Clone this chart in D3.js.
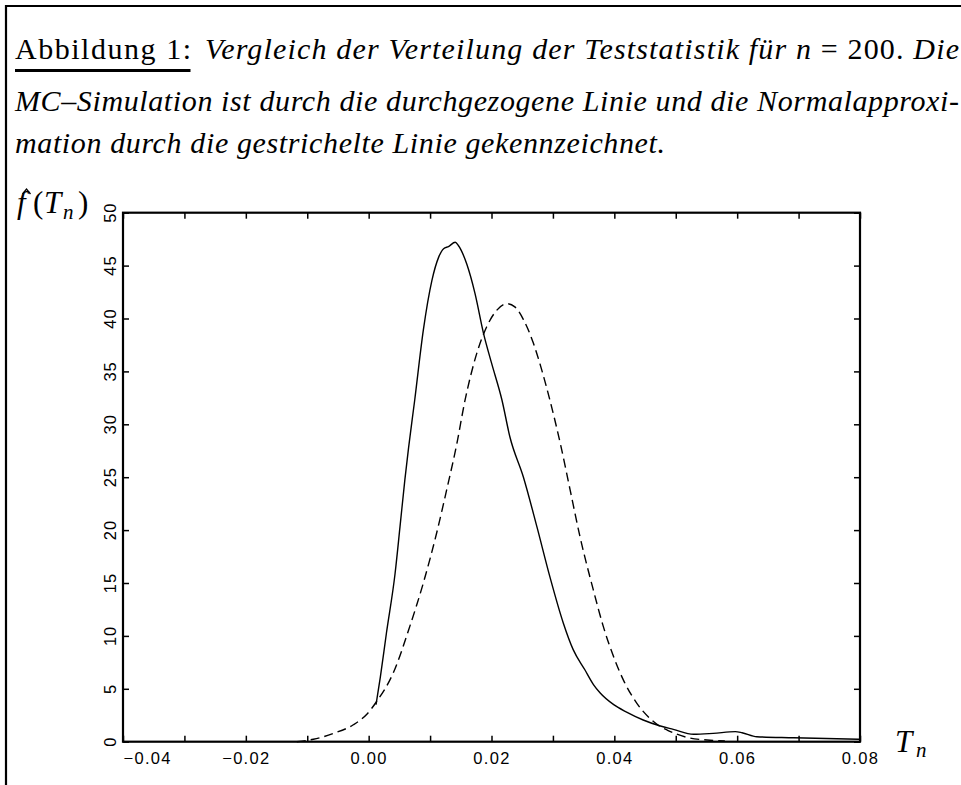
<!DOCTYPE html>
<html>
<head>
<meta charset="utf-8">
<script src="https://cdn.jsdelivr.net/npm/d3@7/dist/d3.min.js"></script>
<style>
  html, body { margin: 0; padding: 0; background: #fff; }
  svg { display: block; }
</style>
</head>
<body>
<script>
// Monte-Carlo density estimate of the test statistic (solid line)
const tnMC = [0.0012, 0.0019, 0.0029, 0.0043, 0.0051, 0.0059, 0.0065, 0.0075, 0.0089, 0.0103,
              0.0114, 0.0122, 0.0130, 0.0141, 0.0146, 0.0160, 0.0173, 0.0187, 0.0200, 0.0217,
              0.0230, 0.0252, 0.0274, 0.0295, 0.0317, 0.0333, 0.0352, 0.0366, 0.0377, 0.0399,
              0.0420, 0.0447, 0.0475, 0.0496, 0.0529, 0.0561, 0.0597, 0.0608, 0.0632, 0.0692, 0.0800];
const densMC = [3.5, 6.1, 10.3, 15.9, 20.3, 24.8, 27.8, 32.3, 38.9, 43.6,
                45.8, 46.6, 46.8, 47.2, 46.9, 45.1, 42.4, 38.6, 35.8, 32.3,
                28.8, 25.0, 20.3, 15.6, 11.2, 8.7, 6.8, 5.4, 4.6, 3.5,
                2.8, 2.05, 1.48, 1.17, 0.70, 0.79, 0.95, 0.85, 0.47, 0.38, 0.23];

// Normal approximation (dashed line)
const tnNorm = [-0.0117, -0.0090, -0.0057, -0.0025, -0.0003, 0.0013, 0.0040, 0.0067, 0.0089, 0.0111,
                0.0127, 0.0143, 0.0157, 0.0176, 0.0192, 0.0206, 0.0225, 0.0238, 0.0252, 0.0268,
                0.0282, 0.0295, 0.0312, 0.0328, 0.0344, 0.0366, 0.0382, 0.0399, 0.0415, 0.0437,
                0.0458, 0.0475, 0.0486, 0.0518, 0.0551, 0.0580];
const densNorm = [0.0, 0.23, 0.79, 1.6, 2.6, 3.8, 6.5, 10.9, 15.0, 19.8,
                  23.8, 28.0, 32.3, 36.7, 39.2, 40.6, 41.4, 41.1, 39.9, 37.7,
                  35.1, 32.3, 28.2, 23.8, 19.4, 14.3, 10.9, 8.0, 5.8, 3.6,
                  2.2, 1.42, 1.1, 0.41, 0.16, 0.08];

// Axis ticks and labels
const xTicks = [-0.04, -0.03, -0.02, -0.01, 0.00, 0.01, 0.02, 0.03, 0.04, 0.05, 0.06, 0.07, 0.08];
const xLabels = ["\u22120.04", "", "\u22120.02", "", "0.00", "", "0.02", "", "0.04", "", "0.06", "", "0.08"];
const yTicks = [0, 5, 10, 15, 20, 25, 30, 35, 40, 45, 50];
const yLabels = ["0", "5", "10", "15", "20", "25", "30", "35", "40", "45", "50"];

const W = 961, H = 785;
const svg = d3.select("body").append("svg").attr("width", W).attr("height", H);
svg.append("rect").attr("width", W).attr("height", H).attr("fill", "#fff");

// page frame (top and left rules)
svg.append("path").attr("d", `M6,${H} V6 H${W}`).attr("fill", "none")
  .attr("stroke", "#000").attr("stroke-width", 2.2);

// caption
const serif = "'Liberation Serif', 'Times New Roman', serif";
const cap = svg.append("g").attr("font-family", serif).attr("font-size", 30).attr("fill", "#000");
cap.append("text").attr("x", 15).attr("y", 59)
  .attr("textLength", 176).attr("lengthAdjust", "spacing")
  .text("Abbildung 1:");
cap.append("line").attr("x1", 15).attr("x2", 190.5).attr("y1", 70.5).attr("y2", 70.5)
  .attr("stroke", "#000").attr("stroke-width", 3);
const l1 = cap.append("text").attr("x", 205).attr("y", 59).attr("font-style", "italic")
  .attr("textLength", 754).attr("lengthAdjust", "spacing");
l1.append("tspan").text("Vergleich der Verteilung der Teststatistik für n ");
l1.append("tspan").attr("font-style", "normal").text("= 200. ");
l1.append("tspan").text("Die");
cap.append("text").attr("x", 15).attr("y", 110.5).attr("font-style", "italic")
  .attr("textLength", 944).attr("lengthAdjust", "spacing")
  .text("MC\u2013Simulation ist durch die durchgezogene Linie und die Normalapproxi-");
cap.append("text").attr("x", 15).attr("y", 153).attr("font-style", "italic")
  .attr("textLength", 650).attr("lengthAdjust", "spacing")
  .text("mation durch die gestrichelte Linie gekennzeichnet.");

// scales
const x = d3.scaleLinear().domain([-0.04, 0.08]).range([123, 860]);
const y = d3.scaleLinear().domain([0, 50]).range([741.7, 212.7]);

const sans = "'Liberation Sans', Arial, sans-serif";
const tickLen = 6;

// bottom axis with labels
const gB = svg.append("g").attr("transform", `translate(0,${y(0)})`)
  .call(d3.axisBottom(x).tickValues(xTicks).tickSizeInner(-tickLen).tickSizeOuter(0)
    .tickPadding(11).tickFormat((d, i) => xLabels[i]));
gB.select(".domain").remove();
gB.selectAll("text").attr("font-family", sans).attr("font-size", 16.5)
  .attr("letter-spacing", "1.3px").attr("fill", "#000");
gB.selectAll(".tick").filter((d, i) => i === 0).select("text")
  .attr("text-anchor", "start").attr("x", 0);

// top axis, ticks only
const gT = svg.append("g").attr("transform", `translate(0,${y(50)})`)
  .call(d3.axisTop(x).tickValues(xTicks).tickSizeInner(-tickLen).tickSizeOuter(0).tickFormat(""));
gT.select(".domain").remove();

// left axis with rotated labels
const gL = svg.append("g").attr("transform", `translate(${x(-0.04)},0)`)
  .call(d3.axisLeft(y).tickValues(yTicks).tickSizeInner(-tickLen).tickSizeOuter(0).tickFormat(""));
gL.select(".domain").remove();
svg.append("g").selectAll("text").data(yTicks).join("text")
  .attr("transform", d => `translate(115.5,${y(d)}) rotate(-90)`)
  .attr("text-anchor", "middle")
  .attr("font-family", sans).attr("font-size", 16.5).attr("letter-spacing", "1px")
  .attr("fill", "#000")
  .text((d, i) => yLabels[i]);

// right axis, ticks only
const gR = svg.append("g").attr("transform", `translate(${x(0.08)},0)`)
  .call(d3.axisRight(y).tickValues(yTicks).tickSizeInner(-tickLen).tickSizeOuter(0).tickFormat(""));
gR.select(".domain").remove();

svg.selectAll(".tick line").attr("stroke", "#000").attr("stroke-width", 1.5);

// plot frame
svg.append("rect").attr("x", x(-0.04)).attr("y", y(50))
  .attr("width", x(0.08) - x(-0.04)).attr("height", y(0) - y(50))
  .attr("fill", "none").attr("stroke", "#000").attr("stroke-width", 2.2);

// curves
const line = d3.line().x(d => x(d[0])).y(d => y(d[1])).curve(d3.curveMonotoneX);
svg.append("path").datum(d3.zip(tnMC, densMC)).attr("d", line)
  .attr("fill", "none").attr("stroke", "#000").attr("stroke-width", 1.4);
svg.append("path").datum(d3.zip(tnNorm, densNorm)).attr("d", line)
  .attr("fill", "none").attr("stroke", "#000").attr("stroke-width", 1.4)
  .attr("stroke-dasharray", "9,5");

// y-axis title: f-hat(T_n)
const yt = svg.append("text").attr("font-family", serif).attr("font-size", 31).attr("fill", "#000")
  .attr("y", 213);
yt.append("tspan").attr("x", 17).attr("font-style", "italic").text("f");
yt.append("tspan").attr("x", 33).text("(");
yt.append("tspan").attr("x", 44).attr("font-style", "italic").text("T");
yt.append("tspan").attr("x", 63).attr("font-style", "italic").attr("font-size", 21).attr("dy", 6).text("n");
yt.append("tspan").attr("x", 78).attr("dy", -6).text(")");
// circumflex over the f
svg.append("path").attr("d", "M22.5,194 L26.5,189 L30.5,194").attr("fill", "none")
  .attr("stroke", "#000").attr("stroke-width", 1.3);

// x-axis title: T_n
const xt = svg.append("text").attr("font-family", serif).attr("font-size", 31).attr("fill", "#000")
  .attr("y", 752).attr("font-style", "italic");
xt.append("tspan").attr("x", 895).text("T");
xt.append("tspan").attr("x", 916).attr("font-size", 21).attr("dy", 5).text("n");
</script>
</body>
</html>
